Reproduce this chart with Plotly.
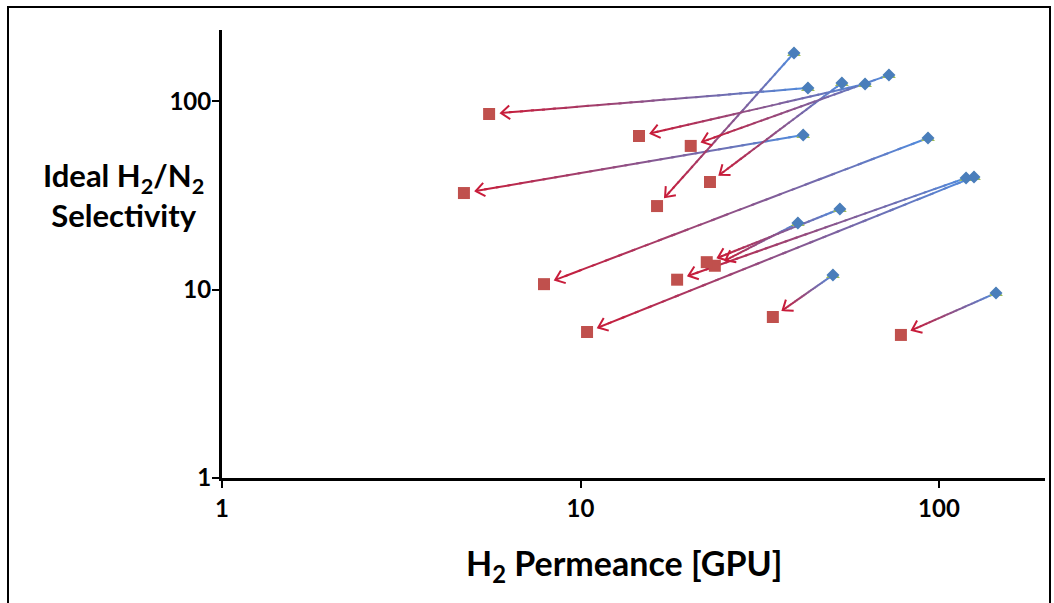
import numpy as np
import plotly.graph_objects as go

# H2 permeance (GPU) and ideal H2/N2 selectivity: before -> after
perm_before = [39.4, 43.1, 53.6, 62.2, 72.5, 41.8, 93.2, 40.4, 52.9, 119.0, 125.2, 50.6, 144.2]
sel_before = [180.7, 117.8, 125.3, 123.7, 138.1, 66.3, 63.9, 22.6, 26.8, 39.2, 39.7, 11.97, 9.6]
perm_after = [16.35, 5.56, 22.97, 14.56, 20.3, 4.73, 7.91, 23.7, 22.5, 18.6, 10.43, 34.4, 78.3]
sel_after = [27.8, 85.7, 37.3, 65.5, 58.0, 32.6, 10.7, 13.4, 14.0, 11.3, 5.96, 7.16, 5.75]

tick_vals = [1, 10, 100]
tick_text = ["1", "10", "100"]

# plot geometry (pixels) and log-axis ranges
W, H = 1054, 603
M_L, M_R, M_T, M_B = 222, 9, 30, 125
PW, PH = W - M_L - M_R, H - M_T - M_B
X_RANGE = [0.0, 2.2957]
Y_RANGE = [0.0, 2.379]
SX = PW / (X_RANGE[1] - X_RANGE[0])
SY = PH / (Y_RANGE[1] - Y_RANGE[0])

BLUE = np.array([80, 140, 222])
RED = np.array([200, 28, 58])
N_PIECES = 28
TIP_GAP = 12.0
ARM_LEN = 11.0
ARM_ANGLE = np.deg2rad(38)


def to_px(v_x, v_y):
    return (np.log10(v_x) - X_RANGE[0]) * SX, (np.log10(v_y) - Y_RANGE[0]) * SY


def from_px(px, py):
    return 10 ** (px / SX + X_RANGE[0]), 10 ** (py / SY + Y_RANGE[0])


fig = go.Figure()

# gradient arrow shafts: each colour step collects one piece of every arrow
piece_x = [[] for _ in range(N_PIECES)]
piece_y = [[] for _ in range(N_PIECES)]
head_x, head_y = [], []
for x0, y0, x1, y1 in zip(perm_before, sel_before, perm_after, sel_after):
    sx, sy = to_px(x0, y0)
    ex, ey = to_px(x1, y1)
    d = np.array([sx - ex, sy - ey])
    u = d / np.hypot(*d)
    tx, ty = ex + u[0] * TIP_GAP, ey + u[1] * TIP_GAP
    ts = np.linspace(0, 1, N_PIECES + 1)
    for k in range(N_PIECES):
        a, b = ts[k], min(ts[k + 1] + 0.01, 1.0)
        pa = from_px(sx + (tx - sx) * a, sy + (ty - sy) * a)
        pb = from_px(sx + (tx - sx) * b, sy + (ty - sy) * b)
        piece_x[k] += [pa[0], pb[0], None]
        piece_y[k] += [pa[1], pb[1], None]
    for sgn in (1, -1):
        c, s = np.cos(sgn * ARM_ANGLE), np.sin(sgn * ARM_ANGLE)
        ax = u[0] * c - u[1] * s
        ay = u[0] * s + u[1] * c
        arm = from_px(tx + ax * ARM_LEN, ty + ay * ARM_LEN)
        tip = from_px(tx, ty)
        head_x += [arm[0], tip[0]]
        head_y += [arm[1], tip[1]]
    head_x.append(None)
    head_y.append(None)

for k in range(N_PIECES):
    t = (k + 0.5) / N_PIECES
    col = BLUE + (RED - BLUE) * t
    fig.add_trace(go.Scatter(
        x=piece_x[k], y=piece_y[k], mode="lines",
        line=dict(color="rgb(%d,%d,%d)" % tuple(col.astype(int)), width=2),
        hoverinfo="skip", showlegend=False))

fig.add_trace(go.Scatter(
    x=head_x, y=head_y, mode="lines",
    line=dict(color="rgb(%d,%d,%d)" % tuple(RED), width=2),
    hoverinfo="skip", showlegend=False))

# before: green triangle beneath a blue diamond
fig.add_trace(go.Scatter(
    x=perm_before, y=sel_before, mode="markers",
    marker=dict(symbol="triangle-up", size=12, color="#9BBB59", line=dict(width=0)),
    showlegend=False))
fig.add_trace(go.Scatter(
    x=perm_before, y=sel_before, mode="markers",
    marker=dict(symbol="diamond", size=10, color="#4A7EBB", line=dict(width=0)),
    showlegend=False))
# after: red squares
fig.add_trace(go.Scatter(
    x=perm_after, y=sel_after, mode="markers",
    marker=dict(symbol="square", size=12, color="#C0504D", line=dict(width=0)),
    showlegend=False))

axis_common = dict(
    type="log", showgrid=False, zeroline=False,
    showline=True, linecolor="black", linewidth=3,
    ticks="outside", ticklen=7, tickwidth=2, tickcolor="black",
    tickvals=tick_vals, ticktext=tick_text,
    tickfont=dict(family="Lato", size=24, color="black", weight="bold"),
)

fig.update_layout(
    width=W, height=H,
    margin=dict(l=M_L, r=M_R, t=M_T, b=M_B),
    paper_bgcolor="white", plot_bgcolor="white",
    xaxis=dict(range=X_RANGE, **axis_common),
    yaxis=dict(range=Y_RANGE, ticklabelstandoff=-4, **axis_common),
    font=dict(family="Lato", color="black"),
    annotations=[
        dict(text="H<sub>2</sub> Permeance [GPU]", xref="paper", yref="paper",
             x=(624 - M_L) / PW, y=-(565 - (H - M_B)) / PH,
             xanchor="center", yanchor="middle", showarrow=False,
             font=dict(family="Lato", size=34, color="black", weight="bold")),
        dict(text="Ideal H<sub>2</sub>/N<sub>2</sub><br>Selectivity", xref="paper", yref="paper",
             x=(123 - M_L) / PW, y=((H - M_B) - 195) / PH,
             xanchor="center", yanchor="middle", showarrow=False, align="center",
             font=dict(family="Lato", size=31, color="black", weight="bold")),
    ],
    shapes=[
        dict(type="rect", xref="paper", yref="paper",
             x0=-(M_L - 8) / PW, x1=(1050 - M_L) / PW,
             y0=-(M_B + 10) / PH, y1=((H - M_B) - 7) / PH,
             line=dict(color="black", width=2), layer="below"),
    ],
)

fig.write_html("out.html")
